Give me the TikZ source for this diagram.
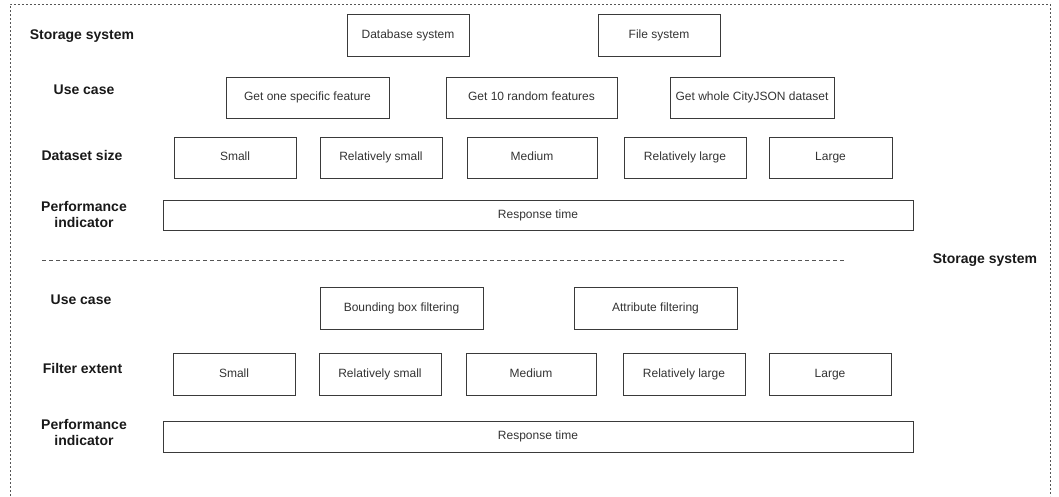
\documentclass[tikz,border=0pt]{standalone}
\usepackage{fontspec}
\setmainfont{Liberation Sans}
\definecolor{boxline}{HTML}{3A3A3A}
\definecolor{boxtext}{HTML}{333333}
\definecolor{frame}{HTML}{555555}
\tikzset{
  cell/.style={draw=boxline, line width=0.9pt, rectangle, minimum height=41pt,
    text=boxtext, font=\fontsize{12}{14}\selectfont, inner sep=0pt,
    text height=9pt, text depth=2.5pt},
  rowlabel/.style={text=black!90, font=\bfseries\fontsize{14}{16}\selectfont, align=center, inner sep=0pt},
  onelabel/.style={rowlabel, text height=10.5pt, text depth=3pt},
  framedash/.style={draw=frame, line width=0.7pt, dash pattern=on 2pt off 2pt},
  sepdash/.style={draw=frame, line width=0.8pt, dash pattern=on 3.5pt off 3.5pt}
}
\begin{document}
\begin{tikzpicture}[x=1pt,y=-1pt]
\useasboundingbox (0,0) rectangle (1059,496);
% outer dashed frame (bottom edge is outside the picture)
\coordinate (fbl) at (10,496);
\coordinate (ftl) at (10,4);
\coordinate (ftr) at (1050,4);
\coordinate (fbr) at (1050,496);
\draw[framedash] (fbl) -- (ftl) -- (ftr) -- (fbr);

% upper part
\node[onelabel] (lss) at (82,36) {Storage system};
\node[cell, minimum width=122pt, minimum height=42pt] (db) at (408,35) {Database system};
\node[cell, minimum width=122pt, minimum height=42pt] (fs) at (659,35) {File system};

\node[onelabel] (luc1) at (84,91) {Use case};
\node[cell, minimum width=163pt] (uc1) at (307.5,97.5) {Get one specific feature};
\node[cell, minimum width=171pt] (uc2) at (531.5,97.5) {Get 10 random features};
\node[cell, minimum width=164pt] (uc3) at (752,97.5) {Get whole CityJSON dataset};

\node[onelabel] (lds) at (82,156.5) {Dataset size};
\node[cell, minimum width=122pt] (ds1) at (235,157.5) {Small};
\node[cell, minimum width=122pt] (ds2) at (381,157.5) {Relatively small};
\node[cell, minimum width=130pt] (ds3) at (532,157.5) {Medium};
\node[cell, minimum width=122pt] (ds4) at (685,157.5) {Relatively large};
\node[cell, minimum width=123pt] (ds5) at (830.5,157.5) {Large};

\node[rowlabel] (lpi1) at (84,214) {Performance\\indicator};
\node[cell, minimum width=750pt, minimum height=30pt] (rt1) at (538,215) {Response time};

% separator
\coordinate (sepL) at (42,260);
\coordinate (sepR) at (845,260);
\draw[sepdash] (sepL) -- (sepR);
\node[onelabel] (lss2) at (985,260) {Storage system};

% lower part
\node[onelabel] (luc2) at (81,301) {Use case};
\node[cell, minimum width=163pt, minimum height=42pt] (bb) at (401.5,308) {Bounding box filtering};
\node[cell, minimum width=163pt, minimum height=42pt] (af) at (655.5,308) {Attribute filtering};

\node[onelabel] (lfe) at (82.5,370) {Filter extent};
\node[cell, minimum width=122pt, minimum height=42pt] (fe1) at (234,374) {Small};
\node[cell, minimum width=122pt, minimum height=42pt] (fe2) at (380,374) {Relatively small};
\node[cell, minimum width=130pt, minimum height=42pt] (fe3) at (531,374) {Medium};
\node[cell, minimum width=122pt, minimum height=42pt] (fe4) at (684,374) {Relatively large};
\node[cell, minimum width=122pt, minimum height=42pt] (fe5) at (830,374) {Large};

\node[rowlabel] (lpi2) at (84,432.5) {Performance\\indicator};
\node[cell, minimum width=750pt, minimum height=31pt] (rt2) at (538,436.5) {Response time};
\end{tikzpicture}
\end{document}
